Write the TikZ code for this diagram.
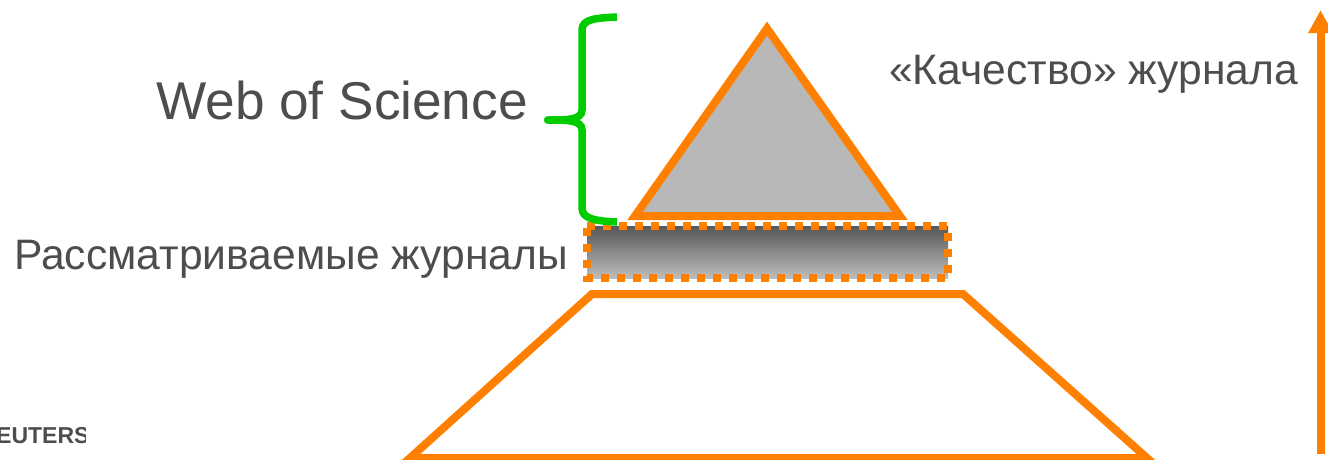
\documentclass[tikz,border=0pt]{standalone}
\usepackage{fontspec}
\setmainfont{Liberation Sans}
\usepackage{xcolor}
\usepackage{tikz}
\usetikzlibrary{arrows.meta}
\definecolor{qualityorange}{HTML}{FF8000}
\definecolor{bracegreen}{HTML}{00CC00}
\definecolor{labelgray}{HTML}{4D4D4D}

\begin{document}
\begin{tikzpicture}[x=1pt,y=-1pt,
  outline/.style={draw=qualityorange,line width=8pt,miter limit=10},
  bracepart/.style={bracegreen,line width=7.5pt,{Round Cap[]}-},
  biglabel/.style={anchor=base west,inner sep=0pt,text=labelgray,font=\fontsize{53.2}{60}\selectfont},
  midlabel/.style={anchor=base west,inner sep=0pt,text=labelgray,font=\fontsize{42.6}{48}\selectfont}]
  \useasboundingbox (0,0) rectangle (1328,459);
  % Top triangle
  \draw[outline,fill=black!28] (767,28.5) -- (900,216) -- (635,216) -- cycle;
  % Middle band
  \draw[draw=qualityorange,line width=8pt,dash pattern=on 8pt off 8pt,top color=black!66,bottom color=black!26]
    (587,226) -- (948,226) -- (948,278) -- (587,278) -- cycle;
  % Bottom trapezoid
  \draw[outline] (592,294) -- (963,294) -- (1147,458) -- (410,458) -- cycle;
  % Brace
  \draw[bracepart] (544,120) .. controls (566,120) and (582,120) .. (582,110) -- (582,30)
    .. controls (582,19) and (596,18) .. (617,17);
  \draw[bracepart] (544,120) .. controls (566,120) and (582,120) .. (582,130) -- (582,208)
    .. controls (582,219) and (596,221) .. (617,222);
  % Labels
  \node (wos) [biglabel] at (156,119) {Web of Science};
  \node (considered) [midlabel] at (14,269) {Рассматриваемые журналы};
  \node (quality) [midlabel] at (889,84) {«Качество» журнала};
  % Logo remainder
  \begin{scope}
    \clip (0,400) rectangle (85,459);
    \node (logo) [anchor=base west,inner sep=0pt,text=labelgray,font=\fontsize{23}{26}\bfseries\selectfont] at (-4,443) {EUTERS};
  \end{scope}
  % Arrow
  \coordinate (arrowstart) at (1320.5,454);
  \coordinate (arrowend) at (1320.5,10);
  \draw[-{Triangle[length=23pt,width=23pt]},qualityorange,line width=8pt] (arrowstart) -- (arrowend);
\end{tikzpicture}
\end{document}
